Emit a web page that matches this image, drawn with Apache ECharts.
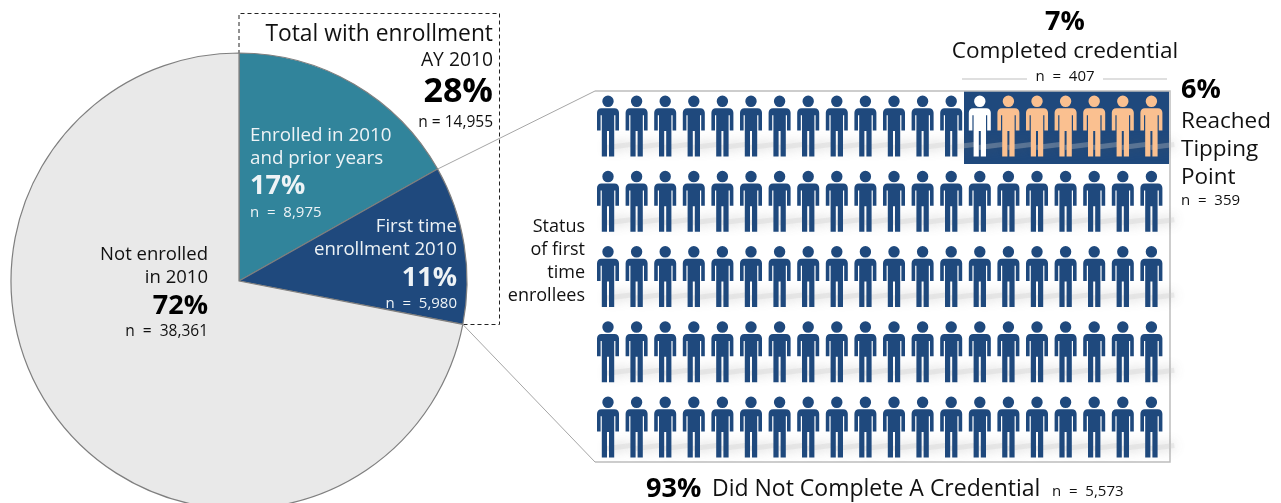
<!DOCTYPE html>
<html>
<head>
<meta charset="utf-8">
<style>html,body{margin:0;padding:0;background:#fff;overflow:hidden}#chart{width:1281px;height:503px}</style>
<script src="https://cdn.jsdelivr.net/npm/echarts@6/dist/echarts.min.js"></script>
</head>
<body>
<div id="chart"></div>
<script>
// Enrollment split, academic year 2010
var sliceNames = ['Enrolled in 2010 and prior years', 'First time enrollment 2010', 'Not enrolled in 2010'];
var sliceCounts = [8975, 5980, 38361];
var slicePercents = [17, 11, 72];
var sliceColors = ['#31849B', '#1F497D', '#E9E9E9'];
var totalEnrolledPercent = 28;
var totalEnrolledCount = 14955;

// Outcomes of first time enrollees, one figure per percentage point
var gridColumns = 20;
var gridRows = 5;
var completedPercent = 7;
var completedCount = 407;
var tippingPercent = 6;
var tippingCount = 359;
var notCompletedPercent = 93;
var notCompletedCount = 5573;

var NAVY = '#1F497D', ORANGE = '#FAC090', WHITE = '#FFFFFF', INK = '#111111';
var FONT = '"Open Sans", "Noto Sans", sans-serif';
var PIE_X = 239, PIE_Y = 281, PIE_R = 228;
var PANEL = { left: 595, top: 91, right: 1170, bottom: 462 };

var PERSON = 'path://M0 0A5.7 5.7 0 0 1 0 11.4A5.7 5.7 0 0 1 0 0Z' +
  'M-6.5 12.6H6.5C9.3 12.6 11 14.4 11 17V34.5H7.4V19.5H6.2V60H1V35H-1V60H-6.2V19.5H-7.4V34.5H-11V17C-11 14.4 -9.3 12.6 -6.5 12.6Z';

// Split the figure grid by status; the completers sit at the end of the first row
var navyCells = [], whiteCells = [], orangeCells = [], shadowCells = [];
for (var r = 0; r < gridRows; r++) {
  for (var c = 0; c < gridColumns; c++) {
    var cell = [c + 0.5, r + 0.5];
    var fromEnd = gridColumns - c;
    shadowCells.push(cell);
    if (r === 0 && fromEnd <= tippingPercent) orangeCells.push(cell);
    else if (r === 0 && fromEnd <= completedPercent) whiteCells.push(cell);
    else navyCells.push(cell);
  }
}

function thousands(n) { return String(n).replace(/\B(?=(\d{3})+$)/g, ','); }
function nLabel(n) { return 'n  =  ' + thousands(n); }

function text(str, x, y, size, opts) {
  opts = opts || {};
  return {
    type: 'text', z: 20, silent: true, x: x, y: y + 1.5,
    style: {
      text: str, fontSize: size, fontFamily: FONT,
      fontWeight: opts.bold ? 700 : 400,
      fill: opts.color || INK,
      align: opts.align || 'left', verticalAlign: 'middle'
    }
  };
}
function line(points, color, width, dash, z) {
  return {
    type: 'polyline', z: z || 1, silent: true,
    shape: { points: points },
    style: { fill: null, stroke: color, lineWidth: width, lineDash: dash || null }
  };
}
function personSeries(cells, color) {
  return {
    type: 'scatter', data: cells, symbol: PERSON, symbolSize: [22, 61], z: 4, silent: true,
    itemStyle: { color: color, opacity: 1 }
  };
}

// Leader lines start where each slice boundary meets the pie's rim
var total = sliceCounts[0] + sliceCounts[1] + sliceCounts[2];
function rimPoint(share) {
  var a = share * 2 * Math.PI;
  return [PIE_X + PIE_R * Math.sin(a), PIE_Y - PIE_R * Math.cos(a)];
}
var rimUpper = rimPoint(sliceCounts[0] / total);
var rimLower = rimPoint((sliceCounts[0] + sliceCounts[1]) / total);

var W = '#EEF3F6';
var graphics = [
  // Dashed bracket around the enrolled slices
  line([[PIE_X, 54], [PIE_X, 13.5], [499.5, 13.5], [499.5, 324.5], [rimLower[0], 324.5]], '#222', 1, [4, 3], 1),
  // Panel behind the figures
  { type: 'rect', z: 1, silent: true, shape: { x: 964, y: PANEL.top, width: 205, height: 73 }, style: { fill: NAVY } },
  line([[PANEL.left, PANEL.top], [PANEL.right, PANEL.top], [PANEL.right, PANEL.bottom], [PANEL.left, PANEL.bottom]], '#BDBDBD', 1.5, null, 1),
  line([rimUpper, [PANEL.left, PANEL.top]], '#A6A6A6', 1, null, 3),
  line([rimLower, [PANEL.left, PANEL.bottom]], '#A6A6A6', 1, null, 3),
  // Rules either side of the completed count
  line([[962, 79], [1027, 79]], '#BFBFBF', 1),
  line([[1103, 79], [1167, 79]], '#BFBFBF', 1),

  text('Total with enrollment', 493, 33, 22.8, { align: 'right' }),
  text('AY 2010', 493, 59, 19.3, { align: 'right' }),
  text(totalEnrolledPercent + '%', 493, 91, 34, { align: 'right', bold: true, color: '#000' }),
  text('n = ' + thousands(totalEnrolledCount), 493, 121, 15.5, { align: 'right' }),

  text('Enrolled in 2010', 250, 134, 18.8, { color: W }),
  text('and prior years', 250, 157, 18.8, { color: W }),
  text(slicePercents[0] + '%', 250, 185, 27, { color: W, bold: true }),
  text(nLabel(sliceCounts[0]), 250, 211, 15, { color: W }),

  text('First time', 457, 225, 18.6, { color: W, align: 'right' }),
  text('enrollment 2010', 457, 248, 18.6, { color: W, align: 'right' }),
  text(slicePercents[1] + '%', 457, 277, 27, { color: W, bold: true, align: 'right' }),
  text(nLabel(sliceCounts[1]), 457, 302, 15, { color: W, align: 'right' }),

  text('Not enrolled', 208, 253, 18.5, { align: 'right' }),
  text('in 2010', 208, 276, 18.5, { align: 'right' }),
  text(slicePercents[2] + '%', 208, 305, 27, { align: 'right', bold: true, color: '#000' }),
  text(nLabel(sliceCounts[2]), 208, 330, 15.5, { align: 'right' }),

  text('Status', 585, 225, 18, { align: 'right' }),
  text('of first', 585, 248, 18, { align: 'right' }),
  text('time', 585, 271, 18, { align: 'right' }),
  text('enrollees', 585, 294, 18, { align: 'right' }),

  text(completedPercent + '%', 1065, 21, 27, { align: 'center', bold: true, color: '#000' }),
  text('Completed credential', 1065, 50, 22.6, { align: 'center' }),
  text(nLabel(completedCount), 1065, 75, 15, { align: 'center' }),

  text(tippingPercent + '%', 1181, 89, 27, { bold: true, color: '#000' }),
  text('Reached', 1181, 120, 22.5),
  text('Tipping', 1181, 148, 22.5),
  text('Point', 1181, 176, 22.5),
  text(nLabel(tippingCount), 1181, 199, 15),

  text(notCompletedPercent + '%', 646, 488, 27, { bold: true, color: '#000' }),
  text('Did Not Complete A Credential', 712, 488, 23),
  text(nLabel(notCompletedCount), 1052, 490, 15)
];

var chart = echarts.init(document.getElementById('chart'), null, { renderer: 'canvas' });
chart.setOption({
  animation: false,
  backgroundColor: '#fff',
  tooltip: { show: false },
  grid: { left: 593.7, top: 88.4, width: 572, height: 376.25 },
  xAxis: { type: 'value', min: 0, max: gridColumns, show: false },
  yAxis: { type: 'value', min: 0, max: gridRows, inverse: true, show: false },
  series: [
    {
      type: 'pie', center: [PIE_X, PIE_Y], radius: PIE_R, startAngle: 90, clockwise: true,
      silent: true, z: 2, label: { show: false }, labelLine: { show: false },
      itemStyle: { borderColor: '#7F7F7F', borderWidth: 1.2 },
      data: sliceNames.map(function (name, i) {
        return { name: name, value: sliceCounts[i], itemStyle: { color: sliceColors[i] } };
      })
    },
    {
      // Soft ground shadow trailing off each figure
      type: 'scatter', data: shadowCells, symbol: 'rect', symbolSize: [24, 5], symbolRotate: 7,
      symbolOffset: [11, 20], z: 3, silent: true,
      itemStyle: { color: 'rgba(205,205,205,0.4)', shadowBlur: 12, shadowColor: 'rgba(90,90,90,0.9)' }
    },
    personSeries(navyCells, NAVY),
    personSeries(whiteCells, WHITE),
    personSeries(orangeCells, ORANGE)
  ],
  graphic: graphics
});
</script>
</body>
</html>
